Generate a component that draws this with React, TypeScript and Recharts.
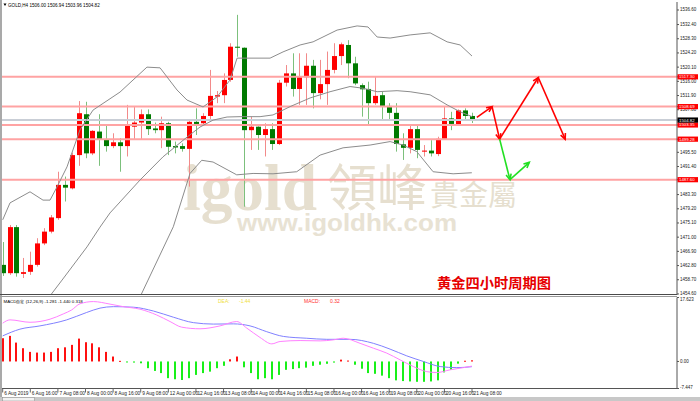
import React from 'react';
import { ComposedChart, Bar, Line, XAxis, YAxis, ReferenceLine } from 'recharts';

// ---------- text ----------
const symbolHeader = 'GOLD,H4  1506.00 1506.94 1503.96 1504.82';
const macdHeader = 'MACD自定 (12,26,9) -1.281 -1.440 0.318';
const chartTitle = '黄金四小时周期图';

// ---------- candles (H4, bar index 0 = 6 Aug 2019 00:00) ----------
const opens = [1463.0, 1460.6, 1473.9, 1460.4, 1461.0, 1463.0, 1469.2, 1472.6, 1476.5, 1486.1,
  1485.1, 1494.7, 1506.5, 1495.2, 1501.5, 1499.3, 1497.3, 1498.4, 1497.3, 1502.9,
  1504.1, 1506.5, 1502.4, 1501.9, 1503.9, 1497.3, 1497.3, 1496.5, 1504.3, 1503.9,
  1506.0, 1511.6, 1512.0, 1516.4, 1526.0, 1525.7, 1501.9, 1502.9, 1500.5, 1502.2,
  1497.9, 1515.6, 1518.3, 1513.8, 1517.2, 1520.5, 1512.6, 1515.2, 1519.3, 1523.3,
  1526.5, 1521.2, 1514.9, 1513.8, 1509.7, 1512.0, 1508.9, 1506.9, 1497.8, 1496.8,
  1502.2, 1495.7, 1496.0, 1495.0, 1499.4, 1505.3, 1503.4, 1507.6, 1506.0];
const highs = [1469.6, 1474.5, 1474.5, 1465.0, 1466.8, 1470.7, 1473.6, 1477.4, 1489.9, 1488.5,
  1495.4, 1510.3, 1510.1, 1501.9, 1506.5, 1503.4, 1501.0, 1499.6, 1509.2, 1508.7,
  1507.9, 1507.9, 1504.1, 1505.8, 1504.3, 1498.6, 1498.1, 1504.8, 1508.2, 1506.8,
  1519.3, 1513.2, 1518.3, 1527.0, 1535.2, 1525.8, 1505.8, 1503.0, 1503.9, 1503.9,
  1516.4, 1520.7, 1524.1, 1524.1, 1524.1, 1522.2, 1522.2, 1524.6, 1527.0, 1527.2,
  1527.9, 1523.1, 1515.4, 1515.9, 1517.3, 1513.0, 1509.7, 1509.7, 1501.0, 1503.4,
  1503.4, 1497.6, 1499.0, 1500.0, 1508.7, 1507.2, 1507.9, 1508.2, 1506.94];
const lows = [1459.8, 1460.1, 1459.6, 1459.2, 1460.1, 1462.5, 1468.7, 1472.1, 1476.0, 1481.3,
  1484.8, 1491.6, 1493.8, 1494.7, 1491.6, 1495.7, 1496.7, 1489.9, 1494.3, 1499.3,
  1499.3, 1500.5, 1501.0, 1496.7, 1494.7, 1495.2, 1495.7, 1485.6, 1500.5, 1503.4,
  1504.8, 1509.7, 1509.7, 1515.9, 1523.1, 1479.8, 1496.2, 1496.2, 1494.3, 1496.2,
  1497.6, 1514.5, 1511.6, 1509.2, 1509.2, 1508.2, 1510.8, 1509.2, 1518.3, 1520.7,
  1516.9, 1514.9, 1505.8, 1503.4, 1509.2, 1504.8, 1504.8, 1495.7, 1493.3, 1495.2,
  1493.8, 1494.3, 1494.3, 1494.4, 1499.1, 1501.9, 1503.1, 1504.8, 1503.96];
const closes = [1460.6, 1473.9, 1460.6, 1460.9, 1463.0, 1469.2, 1472.6, 1476.7, 1486.1, 1485.3,
  1494.7, 1506.8, 1495.2, 1501.7, 1499.3, 1497.3, 1498.4, 1497.3, 1503.1, 1504.1,
  1506.5, 1502.2, 1501.9, 1503.9, 1497.1, 1496.9, 1496.5, 1504.3, 1503.7, 1506.0,
  1511.8, 1512.0, 1516.4, 1526.0, 1525.7, 1501.9, 1502.9, 1500.5, 1502.2, 1497.9,
  1515.6, 1518.3, 1513.8, 1517.2, 1520.5, 1512.6, 1515.2, 1519.3, 1523.3, 1526.7,
  1521.2, 1515.4, 1513.7, 1509.7, 1511.8, 1508.9, 1506.9, 1497.9, 1496.8, 1502.2,
  1496.2, 1496.0, 1495.2, 1499.4, 1505.3, 1503.7, 1507.6, 1506.0, 1504.82];

// ---------- Bollinger bands: [bar index, price] ----------
const bbUpper: [number, number][] = [[0, 1476.0], [1.06, 1480.9], [3.96, 1484.1], [5.84, 1481.7], [6.86, 1481.7],
  [7.87, 1485.5], [9.32, 1491.3], [11.2, 1502.0], [13.09, 1507.7], [17.0, 1512.9], [20.9, 1520.1],
  [22.8, 1519.9], [25.26, 1513.5], [26.7, 1510.6], [29.03, 1508.6], [31.06, 1511.5], [32.94, 1516.4],
  [33.96, 1522.7], [38.74, 1522.7], [40.62, 1524.5], [43.09, 1526.5], [44.97, 1527.4], [48.45, 1530.8],
  [51.35, 1532.0], [52.93, 1531.7], [54.25, 1528.8], [56.13, 1528.5], [59.03, 1529.4], [61.93, 1530.0],
  [64.39, 1527.4], [66.28, 1526.5], [68.0, 1523.3]];
const bbMiddle: [number, number][] = [[6.84, 1454.0], [8.6, 1458.6], [12.22, 1468.2], [14.1, 1473.9],
  [15.55, 1478.0], [19.9, 1487.5], [23.23, 1494.2], [26.71, 1499.9], [28.59, 1502.8], [30.48, 1504.8],
  [32.51, 1505.7], [34.39, 1505.8], [37.29, 1505.8], [39.17, 1506.3], [41.64, 1508.7], [44.54, 1511.2],
  [47.43, 1513.0], [50.33, 1514.5], [52.22, 1514.0], [54.25, 1513.0], [57.14, 1513.3], [59.03, 1513.0],
  [61.93, 1512.1], [64.39, 1509.2], [66.28, 1507.2], [68.0, 1505.8]];
const bbLower: [number, number][] = [[19.96, 1454.0], [21.06, 1458.6], [24.72, 1474.0], [27.14, 1489.4],
  [28.84, 1493.2], [30.48, 1492.7], [33.91, 1489.0], [36.28, 1489.4], [39.17, 1489.3], [42.6, 1489.9],
  [45.99, 1494.7], [49.32, 1496.8], [53.23, 1497.6], [56.13, 1498.6], [58.01, 1497.6], [60.0, 1495.7],
  [62.36, 1489.9], [65.26, 1489.3], [67.97, 1489.6]];

// ---------- level lines & forecast paths ----------
const levelLines = [1517.3, 1508.7, 1503.4, 1499.3, 1487.6];
const levelLabels = ['1517.30', '1508.69', '1503.35', '1499.28', '1487.60'];
const lastPrice = 1504.82;
const redPath: [number, number][] = [[68.7, 1505.6], [70.9, 1508.7], [72.0, 1499.3], [77.6, 1517.1], [81.5, 1499.3]];
const greenPath: [number, number][] = [[72.0, 1499.3], [73.5, 1487.6], [76.3, 1492.6]];

// ---------- axes ----------
const priceTicks = [1536.6, 1532.4, 1528.3, 1524.2, 1520.1, 1516.0, 1511.9, 1507.8, 1495.5, 1491.4,
  1483.3, 1479.2, 1475.1, 1471.0, 1466.9, 1462.8, 1458.7, 1454.6];
const dateLabels = ['6 Aug 2019', '6 Aug 16:00', '7 Aug 08:00', '8 Aug 00:00', '8 Aug 16:00', '9 Aug 08:00',
  '12 Aug 00:00', '12 Aug 16:00', '13 Aug 08:00', '14 Aug 00:00', '14 Aug 16:00', '15 Aug 08:00',
  '16 Aug 00:00', '16 Aug 16:00', '19 Aug 08:00', '20 Aug 00:00', '20 Aug 16:00', '21 Aug 08:00'];
const macdTicks = [17.623, 0, -7.447];
const macdTickLabels = ['17.623', '0.00', '-7.447'];

// ---------- MACD ----------
const macdHist = [6.4, 7.05, 5.2, 3.65, 2.64, 2.45, 2.45, 2.64, 3.65, 3.9,
  4.57, 6.3, 5.3, 5.0, 3.9, 2.64, 1.36, 0.17, -0.1, -0.3,
  -0.5, -1.85, -2.6, -3.2, -4.6, -4.9, -5.1, -4.6, -3.7, -3.2,
  -2.8, -1.85, -1.2, 0.6, 1.36, -1.6, -3.2, -4.9, -4.6, -4.9,
  -3.7, -2.3, -2.1, -1.85, -1.7, -1.2, -0.9, -0.64, -0.3, 0.5,
  0.25, -0.9, -2.0, -3.2, -3.4, -3.9, -4.6, -5.2, -5.4, -5.5,
  -5.6, -5.6, -5.5, -5.2, -3.0, -2.3, -0.6, 0.2, 0.318];
const macdDif: [number, number][] = [[0, 10.55], [1.06, 11.46], [3.96, 10.8], [6.86, 11.65], [8.78, 13.1],
  [10.0, 14.2], [11.2, 15.9], [13.13, 16.5], [15.55, 15.8], [17.48, 15.1], [19.9, 14.4], [22.32, 12.8],
  [24.25, 11.0], [25.94, 9.45], [28.59, 9.0], [31.49, 9.8], [33.91, 11.0], [35.36, 9.2], [37.29, 6.6],
  [38.99, 4.85], [40.19, 5.5], [43.09, 5.76], [45.99, 5.67], [47.91, 5.95], [49.36, 6.4], [51.78, 5.0],
  [53.71, 3.66], [55.65, 2.3], [57.58, 0.44], [59.51, -1.4], [61.45, -2.8], [62.9, -3.05], [64.83, -2.3],
  [66.75, -1.7], [67.97, -1.281]];
const macdDea: [number, number][] = [[0, 7.05], [2.5, 8.9], [5.4, 9.8], [9.28, 11.46], [12.17, 13.5],
  [14.1, 14.7], [16.03, 15.1], [18.93, 14.95], [21.83, 13.9], [24.72, 12.2], [27.62, 10.7], [30.52, 10.3],
  [33.42, 10.36], [35.84, 9.8], [38.26, 8.2], [40.67, 6.9], [44.06, 6.4], [46.96, 6.1], [50.33, 6.1],
  [53.71, 5.0], [56.13, 3.4], [58.55, 1.54], [60.96, 0], [63.38, -1.4], [65.8, -1.7], [67.97, -1.44]];

// ---------- layout constants ----------
const X_DOMAIN: [number, number] = [-0.1, 97.7];
const P_DOMAIN: [number, number] = [1454.3, 1538.91];
const M_DOMAIN: [number, number] = [-7.447, 17.623];
const FONT = '"Liberation Sans", Arial, sans-serif';

const candleRows = opens.map((o, i) => ({ i, o, h: highs[i], l: lows[i], c: closes[i], range: [lows[i], highs[i]] }));
const toRows = (pts: [number, number][]) => pts.map(([i, v]) => ({ i, v }));
const macdRows = macdHist.map((h, i) => ({ i, h }));
const dateTickIdx = dateLabels.map((_, k) => k * 4);

const Candle = (props: any) => {
  const { x, y, width, height, payload } = props;
  if (!payload || x == null) return null;
  const { o, h, l, c } = payload;
  const top = Math.min(y, y + height);
  const hh = Math.abs(height);
  const span = h - l;
  const ppu = span > 0 ? hh / span : 0;
  const yOf = (v: number) => top + (h - v) * ppu;
  const up = c >= o;
  const cx = Math.round(x + width / 2) + 0.5;
  const bTop = yOf(Math.max(o, c));
  const bBot = yOf(Math.min(o, c));
  const body = up ? '#ff0000' : '#007a00';
  const wick = up ? '#f28a8a' : '#7cc07c';
  return (
    <g>
      <line x1={cx} x2={cx} y1={top} y2={top + hh} stroke={wick} strokeWidth={1} />
      <rect x={cx - 2.5} y={bTop} width={5} height={Math.max(1, bBot - bTop)} fill={body} />
    </g>
  );
};

const HistBar = (props: any) => {
  const { x, y, width, height, payload } = props;
  if (!payload || x == null || y == null) return null;
  const top = Math.min(y, y + height);
  const hh = Math.max(1, Math.abs(height));
  const cx = Math.round(x + width / 2);
  const fill = payload.h >= 0 ? '#ff1010' : '#19f019';
  return <rect x={cx - 1} y={top} width={2} height={hh} fill={fill} />;
};

const makeArrow = (color: string) => (props: any) => {
  const { x1, y1, x2, y2 } = props;
  if ([x1, y1, x2, y2].some((v) => v == null || isNaN(v))) return null;
  const a = Math.atan2(y2 - y1, x2 - x1);
  const L = 5.5, Wd = 2.6;
  const bx = x2 - L * Math.cos(a), by = y2 - L * Math.sin(a);
  const p1 = `${bx + Wd * Math.sin(a)},${by - Wd * Math.cos(a)}`;
  const p2 = `${bx - Wd * Math.sin(a)},${by + Wd * Math.cos(a)}`;
  return (
    <g>
      <line x1={x1} y1={y1} x2={x2} y2={y2} stroke={color} strokeWidth={1.6} />
      <polyline points={`${p1} ${x2},${y2} ${p2}`} fill="none" stroke={color} strokeWidth={1.6} />
    </g>
  );
};
const RedArrow = makeArrow('#ff0000');
const GreenArrow = makeArrow('#22e022');

const PriceTick = (props: any) => {
  const { x, y, payload } = props;
  const v = payload.value as number;
  const li = levelLines.indexOf(v);
  if (li >= 0) {
    return (
      <g>
        <rect x={x - 2.5} y={y - 2.6} width={20.5} height={5.2} fill="#ff0000" />
        <text x={x - 1} y={y} fontSize={4.3} fill="#ffffff" dominantBaseline="central" fontFamily={FONT}>{levelLabels[li]}</text>
      </g>
    );
  }
  if (v === lastPrice) {
    return (
      <g>
        <rect x={x - 2.5} y={y - 2.6} width={20.5} height={5.2} fill="#000000" />
        <text x={x - 1} y={y} fontSize={4.3} fill="#ffffff" dominantBaseline="central" fontFamily={FONT}>{v.toFixed(2)}</text>
      </g>
    );
  }
  return <text x={x} y={y} fontSize={4.5} fill="#222" dominantBaseline="central" fontFamily={FONT}>{v.toFixed(2)}</text>;
};

const MacdTick = (props: any) => {
  const { x, y, payload } = props;
  const k = macdTicks.indexOf(payload.value);
  const dy = k === 0 ? 1.5 : k === 2 ? -1.5 : 0;
  return <text x={x} y={y + dy} fontSize={4.5} fill="#222" dominantBaseline="central" fontFamily={FONT}>{macdTickLabels[k]}</text>;
};

const DateTick = (props: any) => {
  const { x, y, payload } = props;
  const k = Math.round(payload.value / 4);
  return <text x={x + 1.5} y={y + 0.5} fontSize={4.8} fill="#222" dominantBaseline="central" fontFamily={FONT}>{dateLabels[k]}</text>;
};

const segs = (pts: [number, number][]) => pts.slice(1).map((p, k) => [pts[k], p] as [[number, number], [number, number]]);

export default function App() {
  return (
    <div style={{ position: 'fixed', left: 0, top: 0, width: 700, height: 401, background: '#ffffff', overflow: 'hidden', fontFamily: FONT }}>
      {/* watermark */}
      <svg width={700} height={401} style={{ position: 'absolute', left: 0, top: 0 }}>
        <text x={183} y={210} fontFamily='"Liberation Serif", "DejaVu Serif", serif' fontWeight="bold" fontSize={66} fill="#e6dfcf" textLength={134} lengthAdjust="spacingAndGlyphs">igold</text>
        <text x={327} y={206} fontFamily='"Noto Sans CJK TC", sans-serif' fontSize={50} fill="#e6dfcf" textLength={100} lengthAdjust="spacingAndGlyphs">領峰</text>
        <text x={430} y={206} fontFamily='"Noto Sans CJK TC", sans-serif' fontSize={29} fill="#e6dfcf" textLength={87} lengthAdjust="spacingAndGlyphs">貴金屬</text>
        <text x={237} y={231} fontFamily={FONT} fontWeight="bold" fontSize={24} fill="#e8e2d3" textLength={220} lengthAdjust="spacingAndGlyphs">www.igoldhk.com</text>
      </svg>

      {/* price panel */}
      <div style={{ position: 'absolute', left: 0, top: 0 }}>
        <ComposedChart width={700} height={296} data={candleRows} margin={{ top: 2, right: 0, bottom: 1, left: 2 }}>
          <XAxis type="number" dataKey="i" domain={X_DOMAIN} allowDataOverflow hide />
          <YAxis orientation="right" type="number" domain={P_DOMAIN} allowDataOverflow width={23}
            ticks={[...priceTicks, ...levelLines, lastPrice]} interval={0} tick={PriceTick}
            tickSize={2} tickMargin={1} tickLine={{ stroke: '#555' }} axisLine={{ stroke: '#555' }} />
          {levelLines.map((v) => (
            <ReferenceLine key={'lv' + v} y={v} stroke="#ffa3a3" strokeWidth={2} />
          ))}
          <ReferenceLine y={lastPrice} stroke="#c9ced6" strokeWidth={2} />
          <Line data={toRows(bbUpper)} dataKey="v" type="linear" stroke="#8c8c8c" strokeWidth={1} dot={false} isAnimationActive={false} />
          <Line data={toRows(bbMiddle)} dataKey="v" type="linear" stroke="#8c8c8c" strokeWidth={1} dot={false} isAnimationActive={false} />
          <Line data={toRows(bbLower)} dataKey="v" type="linear" stroke="#8c8c8c" strokeWidth={1} dot={false} isAnimationActive={false} />
          <Bar dataKey="range" barSize={5} shape={Candle} isAnimationActive={false} />
          {segs(redPath).map(([a, b], k) => (
            <ReferenceLine key={'r' + k} segment={[{ x: a[0], y: a[1] }, { x: b[0], y: b[1] }]} shape={RedArrow} stroke="#ff0000" />
          ))}
          {segs(greenPath).map(([a, b], k) => (
            <ReferenceLine key={'g' + k} segment={[{ x: a[0], y: a[1] }, { x: b[0], y: b[1] }]} shape={GreenArrow} stroke="#22e022" />
          ))}
        </ComposedChart>
      </div>

      {/* MACD panel */}
      <div style={{ position: 'absolute', left: 0, top: 0 }}>
        <ComposedChart width={700} height={401} data={macdRows} margin={{ top: 297.5, right: 0, bottom: 0, left: 2 }}>
          <XAxis type="number" dataKey="i" domain={X_DOMAIN} allowDataOverflow ticks={dateTickIdx} interval={0}
            height={12.5} tick={DateTick} tickSize={4} tickMargin={0} tickLine={{ stroke: '#666' }} axisLine={{ stroke: '#555' }} />
          <YAxis orientation="right" type="number" domain={M_DOMAIN} allowDataOverflow width={23}
            ticks={macdTicks} interval={0} tick={MacdTick} tickSize={2} tickMargin={1}
            tickLine={{ stroke: '#555' }} axisLine={{ stroke: '#555' }} />
          <Bar dataKey="h" barSize={2} shape={HistBar} isAnimationActive={false} />
          <Line data={toRows(macdDea)} dataKey="v" type="monotone" stroke="#8080ff" strokeWidth={1} dot={false} isAnimationActive={false} />
          <Line data={toRows(macdDif)} dataKey="v" type="monotone" stroke="#ff80ff" strokeWidth={1} dot={false} isAnimationActive={false} />
        </ComposedChart>
      </div>

      {/* overlay: frame & labels */}
      <svg width={700} height={401} style={{ position: 'absolute', left: 0, top: 0, pointerEvents: 'none' }}>
        <rect x={0} y={0} width={2} height={397} fill="#a9a9a9" />
        <rect x={0} y={294} width={677} height={1} fill="#4a4a4a" />
        <rect x={0} y={296} width={677} height={1} fill="#9a9a9a" />
        <rect x={0} y={397} width={700} height={4} fill="#c8c8c8" />
        <rect x={2.5} y={397.5} width={32} height={3.5} fill="#f2f2f2" stroke="#888" strokeWidth={0.5} />
        <polygon points="3.5,3.5 6.5,3.5 5,6" fill="#000" />
        <text x={8} y={5} fontSize={4.6} fill="#000" dominantBaseline="central" fontFamily={FONT}>{symbolHeader}</text>
        <text x={3.5} y={301} fontSize={4.4} fill="#000" dominantBaseline="central" fontFamily={FONT}>{macdHeader}</text>
        <text x={218} y={301} fontSize={5} fill="#f0e040" dominantBaseline="central" fontFamily={FONT}>DEA:</text>
        <text x={239} y={301} fontSize={5} fill="#f0e040" dominantBaseline="central" fontFamily={FONT}>-1.44</text>
        <text x={304} y={301} fontSize={5} fill="#ff3030" dominantBaseline="central" fontFamily={FONT}>MACD:</text>
        <text x={330} y={301} fontSize={5} fill="#ff3030" dominantBaseline="central" fontFamily={FONT}>0.32</text>
        <text x={437} y={288} fontSize={14} fontWeight="bold" fill="#e60000" fontFamily='"Noto Sans CJK SC", sans-serif' textLength={114} lengthAdjust="spacingAndGlyphs">{chartTitle}</text>
      </svg>
    </div>
  );
}
